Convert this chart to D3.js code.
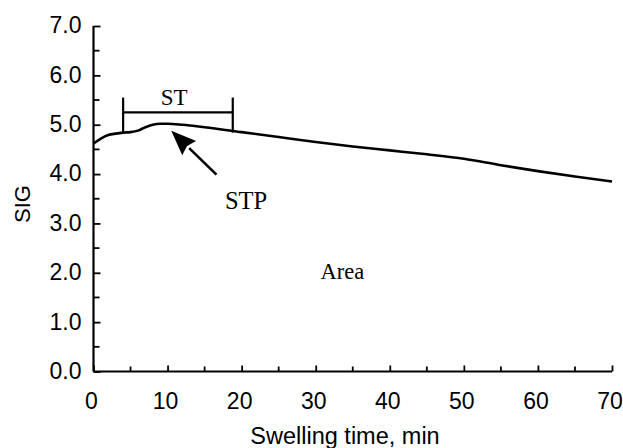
<!DOCTYPE html>
<html>
<head>
<meta charset="utf-8">
<script src="https://cdn.jsdelivr.net/npm/d3@7"></script>
<style>
  html, body { margin: 0; padding: 0; background: #fff; }
  svg { display: block; }
</style>
</head>
<body>
<svg id="chart" width="623" height="448"></svg>
<script>
// ---- Data ----
const timeMin = [0, 1, 2, 3, 4, 5, 6, 7, 8, 9, 10, 12, 15, 20, 25, 30, 35, 40, 45, 50, 55, 60, 65, 70];
const sigValues = [4.62, 4.72, 4.79, 4.82, 4.84, 4.85, 4.88, 4.95, 5.00, 5.02, 5.02, 5.00, 4.95, 4.85, 4.75, 4.65, 4.56, 4.48, 4.40, 4.31, 4.18, 4.06, 3.95, 3.85];
const xTickValues = [0, 10, 20, 30, 40, 50, 60, 70];
const xMinorTicks = [5, 15, 25, 35, 45, 55, 65];
const yTickValues = [0, 1, 2, 3, 4, 5, 6, 7];
const yMinorTicks = [0.5, 1.5, 2.5, 3.5, 4.5, 5.5, 6.5];
const stRange = [4, 18.8];       // ST bracket (min)
const stLevel = 5.25;            // ST bracket level
const stTickSpan = [4.84, 5.55];
const arrowFrom = [16.6, 3.99];  // STP arrow tail
const arrowTo = [10.5, 4.88];    // STP arrow tip
const annotations = [
  { text: "ST", x: 10.9, y: 5.40 },
  { text: "STP", x: 20.6, y: 3.30 },
  { text: "Area", x: 33.6, y: 1.88 }
];
const xTitle = "Swelling time, min";
const yTitle = "SIG";

// ---- Layout / style ----
const annSize = { "ST": 23, "STP": 24.5, "Area": 22.5 };
const svg = d3.select("#chart");
const x = d3.scaleLinear().domain([0, 70]).range([93.5, 612]);
const y = d3.scaleLinear().domain([0, 7]).range([371.5, 26]);
const sans = "'Liberation Sans', Arial, sans-serif";
const serif = "'Liberation Serif', 'Times New Roman', serif";

// Axes (ticks pointing inward)
const xAxis = d3.axisBottom(x).tickValues(xTickValues).tickSize(-6).tickPadding(0).tickFormat(d3.format("d"));
const gx = svg.append("g").attr("transform", `translate(0,${y(0)})`).call(xAxis);
gx.select(".domain").attr("stroke-width", 2.2).attr("d", `M${x(0)},0H${x(70)}`);
gx.selectAll(".tick line").attr("stroke-width", 1.8);
gx.selectAll(".tick text").attr("font-family", sans).attr("font-size", 23).attr("fill", "#000")
  .attr("y", 37).attr("dy", 0).attr("dx", -2.5);
gx.selectAll(".minor").data(xMinorTicks).enter().append("line")
  .attr("x1", d => x(d)).attr("x2", d => x(d)).attr("y1", 0).attr("y2", -5)
  .attr("stroke", "#000").attr("stroke-width", 1.8);

const yAxis = d3.axisLeft(y).tickValues(yTickValues).tickSize(-7).tickPadding(12).tickFormat(d3.format(".1f"));
const gy = svg.append("g").attr("transform", `translate(${x(0)},0)`).call(yAxis);
gy.select(".domain").attr("stroke-width", 2.2).attr("d", `M0,${y(7)}V${y(0)}`);
gy.selectAll(".tick line").attr("stroke-width", 1.8);
gy.selectAll(".tick text").attr("font-family", sans).attr("font-size", 23).attr("fill", "#000")
  .attr("x", -12).attr("dy", "0.3em");
gy.selectAll(".minor").data(yMinorTicks).enter().append("line")
  .attr("x1", 0).attr("x2", 6).attr("y1", d => y(d)).attr("y2", d => y(d))
  .attr("stroke", "#000").attr("stroke-width", 1.8);

// Axis titles
svg.append("text").attr("x", 345).attr("y", 444).attr("text-anchor", "middle")
  .attr("font-family", sans).attr("font-size", 23.5).text(xTitle);
svg.append("text").attr("transform", "translate(30,204) rotate(-90)").attr("text-anchor", "middle")
  .attr("font-family", sans).attr("font-size", 22).text(yTitle);

// Curve
const line = d3.line().x((d, i) => x(timeMin[i])).y(d => y(d)).curve(d3.curveMonotoneX);
svg.append("path").datum(sigValues).attr("d", line)
  .attr("fill", "none").attr("stroke", "#000").attr("stroke-width", 2.6).attr("stroke-linejoin", "round");

// ST bracket
const br = svg.append("g").attr("stroke", "#000").attr("stroke-width", 2.2);
br.append("line").attr("x1", x(stRange[0])).attr("x2", x(stRange[1])).attr("y1", y(stLevel)).attr("y2", y(stLevel));
stRange.forEach(t => {
  br.append("line").attr("x1", x(t)).attr("x2", x(t)).attr("y1", y(stTickSpan[1])).attr("y2", y(stTickSpan[0]));
});

// Arrow
const ax0 = x(arrowFrom[0]), ay0 = y(arrowFrom[1]), ax1 = x(arrowTo[0]), ay1 = y(arrowTo[1]);
const ang = Math.atan2(ay1 - ay0, ax1 - ax0);
const headLen = 25, headHalf = 10;
const bx = ax1 - headLen * Math.cos(ang), by = ay1 - headLen * Math.sin(ang);
svg.append("line").attr("x1", ax0).attr("y1", ay0).attr("x2", bx).attr("y2", by)
  .attr("stroke", "#000").attr("stroke-width", 2.6);
const px = -Math.sin(ang), py = Math.cos(ang);
svg.append("path")
  .attr("d", `M${ax1},${ay1}L${bx + px * headHalf},${by + py * headHalf}L${bx + 3 * Math.cos(ang)},${by + 3 * Math.sin(ang)}L${bx - px * headHalf},${by - py * headHalf}Z`)
  .attr("fill", "#000");

// Annotations
svg.selectAll(".ann").data(annotations).enter().append("text")
  .attr("x", d => x(d.x)).attr("y", d => y(d.y)).attr("text-anchor", "middle")
  .attr("font-family", serif).attr("font-size", d => annSize[d.text]).attr("fill", "#000").text(d => d.text);
</script>
</body>
</html>
